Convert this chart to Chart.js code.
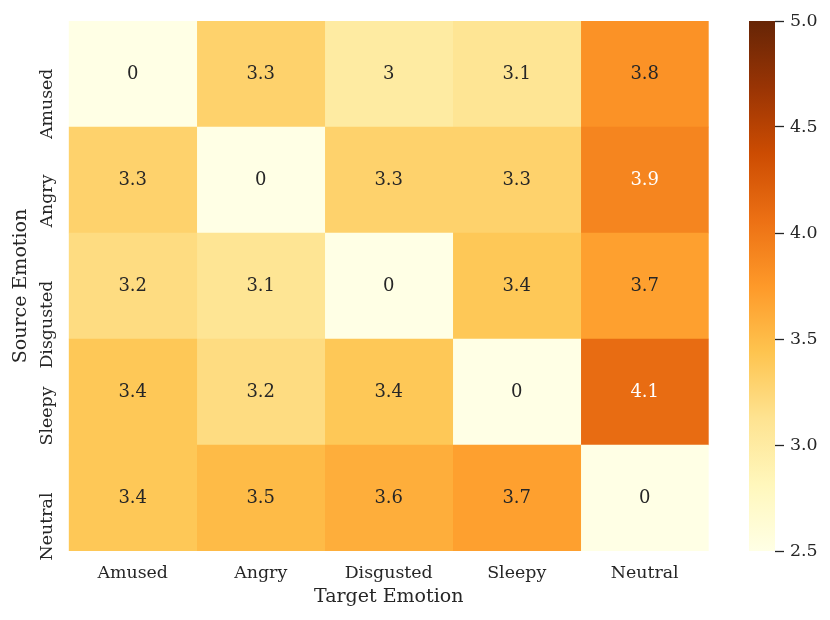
<!DOCTYPE html>
<html>
<head>
<meta charset="utf-8">
<script src="https://cdn.jsdelivr.net/npm/chart.js@4.4.1/dist/chart.umd.min.js"></script>
<style>
  html, body { margin: 0; padding: 0; background: #ffffff; }
  #wrap { position: relative; width: 830px; height: 620px; }
  #heat { position: absolute; left: 0; top: 0; width: 720px; height: 620px; }
  #bar { position: absolute; left: 700px; top: 0; width: 130px; height: 620px; }
</style>
</head>
<body>
<div id="wrap">
  <div id="heat"><canvas id="heatmap"></canvas></div>
  <div id="bar"><canvas id="colorbar"></canvas></div>
</div>
<script>
// rows = source emotion, columns = target emotion
const sources = ['Amused', 'Angry', 'Disgusted', 'Sleepy', 'Neutral'];
const targets = ['Amused', 'Angry', 'Disgusted', 'Sleepy', 'Neutral'];
const amusedRow = [0, 3.3, 3.0, 3.1, 3.8];
const angryRow = [3.3, 0, 3.3, 3.3, 3.9];
const disgustedRow = [3.2, 3.1, 0, 3.4, 3.7];
const sleepyRow = [3.4, 3.2, 3.4, 0, 4.1];
const neutralRow = [3.4, 3.5, 3.6, 3.7, 0];
const colorbarTicks = [2.5, 3.0, 3.5, 4.0, 4.5, 5.0];
const vmin = 2.5;
const vmax = 5.0;

const matrix = [amusedRow, angryRow, disgustedRow, sleepyRow, neutralRow];

// YlOrBr colormap (same stops matplotlib uses)
const ylOrBr = ['#ffffe5', '#fff7bc', '#fee391', '#fec44f', '#fe9929', '#ec7014', '#cc4c02', '#993404', '#662506'];
const TEXT = '#262626';
const FONT = '"DejaVu Serif", serif';

function hexToRgb(h) {
  return [parseInt(h.slice(1, 3), 16), parseInt(h.slice(3, 5), 16), parseInt(h.slice(5, 7), 16)];
}

function cellRgb(v) {
  let t = (v - vmin) / (vmax - vmin);
  t = Math.max(0, Math.min(1, t));
  const pos = t * (ylOrBr.length - 1);
  const k = Math.min(Math.floor(pos), ylOrBr.length - 2);
  const f = pos - k;
  const a = hexToRgb(ylOrBr[k]);
  const b = hexToRgb(ylOrBr[k + 1]);
  return a.map((c, i) => Math.round(c + (b[i] - c) * f));
}

function cellColor(v) {
  const c = cellRgb(v);
  return 'rgb(' + c.join(',') + ')';
}

// same rule seaborn uses to pick dark or white annotation text
function luminance(rgb) {
  const lin = rgb.map(c => {
    c = c / 255;
    return c <= 0.03928 ? c / 12.92 : Math.pow((c + 0.055) / 1.055, 2.4);
  });
  return 0.2126 * lin[0] + 0.7152 * lin[1] + 0.0722 * lin[2];
}

function fmt(v) {
  return String(Number(v.toPrecision(2)));
}

const cellLabels = {
  id: 'cellLabels',
  afterDatasetsDraw(chart) {
    const ctx = chart.ctx;
    ctx.save();
    ctx.font = '18px ' + FONT;
    ctx.textAlign = 'center';
    ctx.textBaseline = 'middle';
    chart.data.datasets.forEach((ds, j) => {
      chart.getDatasetMeta(j).data.forEach((bar, i) => {
        const v = matrix[i][j];
        ctx.fillStyle = luminance(cellRgb(v)) > 0.408 ? TEXT : '#ffffff';
        const p = bar.getCenterPoint();
        ctx.fillText(fmt(v), p.x, p.y);
      });
    });

    // vertical source labels
    const ys = chart.scales.y;
    ctx.font = '17.4px ' + FONT;
    ctx.fillStyle = TEXT;
    ctx.textAlign = 'right';
    ctx.textBaseline = 'alphabetic';
    sources.forEach((s, i) => {
      const y = ys.getPixelForValue(i);
      ctx.save();
      ctx.translate(ys.right - 17.2, y - 5.5);
      ctx.rotate(-Math.PI / 2);
      ctx.fillText(s, 0, 0);
      ctx.restore();
    });
    ctx.restore();
  }
};

new Chart(document.getElementById('heatmap'), {
  type: 'bar',
  data: {
    labels: sources,
    datasets: targets.map((t, j) => ({
      label: t,
      data: sources.map(() => 1),
      backgroundColor: matrix.map(row => cellColor(row[j])),
      borderWidth: 0,
      barPercentage: 1,
      categoryPercentage: 1
    }))
  },
  options: {
    indexAxis: 'y',
    responsive: true,
    maintainAspectRatio: false,
    animation: false,
    layout: { padding: { left: 0, top: 21, right: 11.3, bottom: 0 } },
    plugins: { legend: { display: false }, tooltip: { enabled: false } },
    scales: {
      x: {
        type: 'linear',
        min: 0,
        max: 5,
        stacked: true,
        grid: { display: false, drawTicks: false },
        border: { display: false },
        afterBuildTicks: s => { s.ticks = targets.map((t, j) => ({ value: j + 0.5 })); },
        afterFit: s => { s.height = 69; },
        ticks: {
          autoSkip: false,
          maxRotation: 0,
          padding: 12.5,
          color: TEXT,
          font: { family: FONT, size: 17.4 },
          callback: (v, i) => targets[i]
        },
        title: {
          display: true,
          text: 'Target Emotion',
          color: TEXT,
          font: { family: FONT, size: 19 },
          padding: { top: 0, bottom: 11.2 }
        }
      },
      y: {
        type: 'category',
        stacked: true,
        grid: { display: false, drawTicks: false },
        border: { display: false },
        ticks: { display: false },
        afterFit: s => { s.width = 68.7; },
        title: {
          display: true,
          text: 'Source Emotion',
          color: TEXT,
          font: { family: FONT, size: 19 },
          padding: { top: 9.5, bottom: 0 }
        }
      }
    }
  },
  plugins: [cellLabels]
});

new Chart(document.getElementById('colorbar'), {
  type: 'bar',
  data: {
    labels: [''],
    datasets: [{
      data: [[vmin, vmax]],
      borderWidth: 0,
      barPercentage: 1,
      categoryPercentage: 1,
      backgroundColor: c => {
        const area = c.chart.chartArea;
        if (!area) return ylOrBr[0];
        const g = c.chart.ctx.createLinearGradient(0, area.bottom, 0, area.top);
        ylOrBr.forEach((col, k) => g.addColorStop(k / (ylOrBr.length - 1), col));
        return g;
      }
    }]
  },
  options: {
    responsive: true,
    maintainAspectRatio: false,
    animation: false,
    layout: { padding: { left: 49, top: 21, right: 0, bottom: 69 } },
    plugins: { legend: { display: false }, tooltip: { enabled: false } },
    scales: {
      x: { display: false },
      y: {
        position: 'right',
        min: vmin,
        max: vmax,
        afterBuildTicks: s => { s.ticks = colorbarTicks.map(v => ({ value: v })); },
        afterFit: s => { s.width = 55; },
        grid: { display: true, drawOnChartArea: false, drawTicks: true, tickLength: 9, tickWidth: 1.3, tickColor: TEXT },
        border: { display: false },
        ticks: {
          padding: 6,
          color: TEXT,
          font: { family: FONT, size: 17.4 },
          callback: v => v.toFixed(1)
        }
      }
    }
  }
});
</script>
</body>
</html>
